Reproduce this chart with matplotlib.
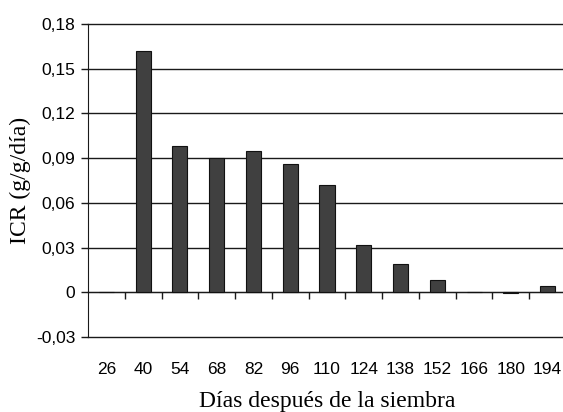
import matplotlib
matplotlib.use('Agg')
import numpy as np
import matplotlib.pyplot as plt
from matplotlib.ticker import FixedLocator, FuncFormatter

dias = ['26', '40', '54', '68', '82', '96', '110', '124', '138', '152', '166', '180', '194']
icr = [0.0, 0.162, 0.098, 0.090, 0.095, 0.086, 0.072, 0.032, 0.019, 0.0085, 0.0, -0.0008, 0.0045]
y_ticks = [-0.03, 0, 0.03, 0.06, 0.09, 0.12, 0.15, 0.18]

fig = plt.figure(figsize=(5.63, 4.12), dpi=100)
ax = fig.add_axes([0.1563, 0.182, 0.849, 0.7597])

x = np.arange(len(dias))
ax.bar(x, icr, width=0.41, color='#404040', edgecolor='#111111', linewidth=0.8, zorder=3)

ax.set_xlim(-0.5, len(dias) - 0.5)
ax.set_ylim(-0.03, 0.18)

# horizontal grid, with the tick marks sticking out left of the axis
ax.set_yticks(y_ticks)
ax.yaxis.set_major_formatter(FuncFormatter(lambda v, p: '0' if abs(v) < 1e-9 else f'{v:.2f}'.replace('.', ',')))
ax.grid(axis='y', color='#1a1a1a', linewidth=1.0, zorder=1)
for gl in ax.get_ygridlines():
    gl.set_clip_on(False)  # keep the lines at -0.03 and 0.18 full width
ax.tick_params(axis='y', direction='out', length=5, width=1.0, color='#1a1a1a', pad=4,
               labelsize=12.5, labelfontfamily='Liberation Sans')

# category axis sits at zero, ticks between categories, labels below the plot
for s in ['top', 'right']:
    ax.spines[s].set_visible(False)
ax.spines['left'].set_color('#1a1a1a')
ax.spines['bottom'].set_position(('data', 0))
ax.spines['bottom'].set_color('#1a1a1a')
ax.set_xticks(x)
ax.set_xticklabels(dias, family='Liberation Sans', fontsize=12.5)
ax.xaxis.set_minor_locator(FixedLocator(x[:-1] + 0.5))
ax.tick_params(axis='x', which='major', length=0, pad=50)
ax.tick_params(axis='x', which='minor', direction='out', length=5, width=1.0, color='#1a1a1a')

ax.set_xlabel('Días después de la siembra', family='Liberation Serif', fontsize=17, labelpad=10)
ax.set_ylabel('ICR (g/g/día)', family='Liberation Serif', fontsize=17, labelpad=4)

fig.savefig('out.png', dpi=100)
